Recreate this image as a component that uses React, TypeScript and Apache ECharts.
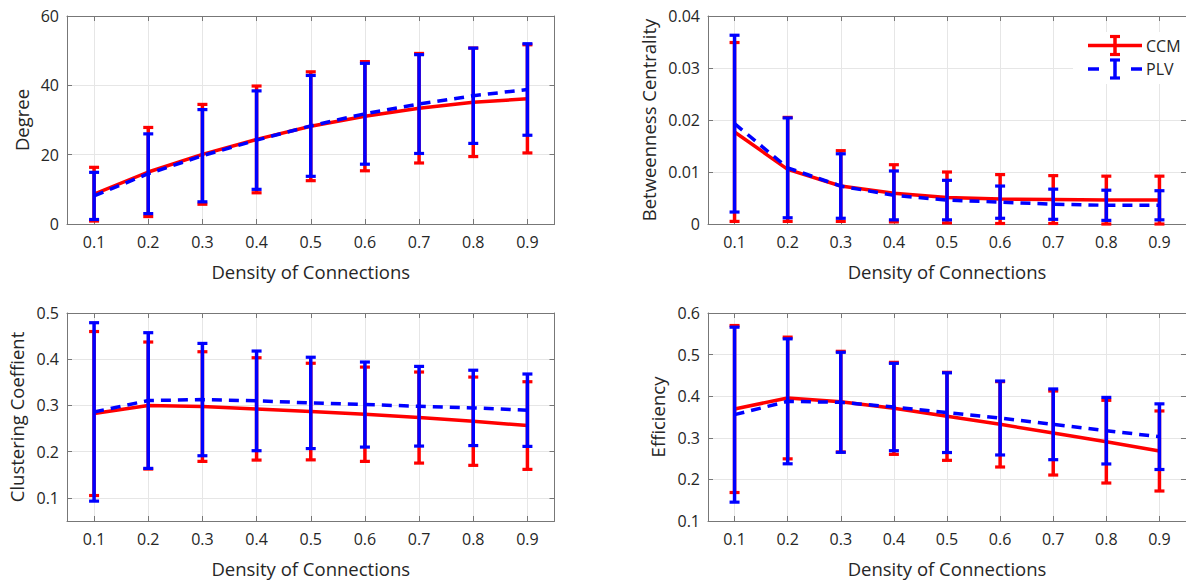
import React, { useEffect, useRef } from "react";
import * as echarts from "echarts";

const density = [0.1, 0.2, 0.3, 0.4, 0.5, 0.6, 0.7, 0.8, 0.9];

const degreeCCM = [8.6, 15.0, 20.1, 24.4, 28.2, 31.1, 33.4, 35.1, 36.1];
const degreeCCMStd = [7.75, 12.85, 14.4, 15.4, 15.7, 15.75, 15.8, 15.65, 15.6];
const degreePLV = [8.1, 14.5, 19.7, 24.2, 28.3, 31.8, 34.6, 37.0, 38.8];
const degreePLVStd = [6.8, 11.5, 13.3, 14.2, 14.55, 14.55, 14.25, 13.75, 13.2];

const betweenCCM = [0.0177, 0.0105, 0.0073, 0.0059, 0.0051, 0.0048, 0.0047, 0.0046, 0.0046];
const betweenCCMStd = [0.0172, 0.01, 0.0068, 0.0055, 0.0049, 0.0047, 0.0046, 0.0046, 0.0046];
const betweenPLV = [0.0193, 0.0108, 0.0073, 0.0055, 0.0046, 0.0042, 0.0038, 0.0036, 0.0036];
const betweenPLVStd = [0.017, 0.0096, 0.0062, 0.0047, 0.0038, 0.0031, 0.0029, 0.0029, 0.0028];

const clusterCCM = [0.2825, 0.2998, 0.2976, 0.2925, 0.2868, 0.281, 0.2738, 0.2659, 0.2565];
const clusterCCMStd = [0.1774, 0.1374, 0.1186, 0.1107, 0.1045, 0.102, 0.0985, 0.0955, 0.0948];
const clusterPLV = [0.286, 0.3106, 0.3127, 0.3099, 0.3055, 0.3019, 0.2983, 0.2947, 0.2897];
const clusterPLVStd = [0.193, 0.1468, 0.1215, 0.1078, 0.0988, 0.092, 0.0862, 0.0815, 0.0783];

const effCCM = [0.3692, 0.3957, 0.3869, 0.3708, 0.3516, 0.3324, 0.3115, 0.2907, 0.2683];
const effCCMStd = [0.2007, 0.1463, 0.121, 0.1106, 0.1058, 0.1026, 0.101, 0.0994, 0.0962];
const effPLV = [0.3556, 0.3877, 0.3853, 0.374, 0.3604, 0.3476, 0.3324, 0.3171, 0.3027];
const effPLVStd = [0.2103, 0.1502, 0.1202, 0.105, 0.0958, 0.0889, 0.085, 0.08, 0.0789];

const degreeTicks = [0, 20, 40, 60];
const betweenTicks = [0, 0.01, 0.02, 0.03, 0.04];
const clusterTicks = [0.1, 0.2, 0.3, 0.4, 0.5];
const effTicks = [0.1, 0.2, 0.3, 0.4, 0.5, 0.6];

const RED = "#ff0000";
const BLUE = "#0000ff";
const AXIS = "#777777";
const TEXT = "#262626";
const GRIDC = "#e6e6e6";
const FONT = "Open Sans";

const panels = [
  { name: "Degree", ccm: degreeCCM, ccmStd: degreeCCMStd, plv: degreePLV, plvStd: degreePLVStd, ticks: degreeTicks, min: 0, max: 60, dec: 0, left: 67, top: 16, nameGap: 36 },
  { name: "Betweenness Centrality", ccm: betweenCCM, ccmStd: betweenCCMStd, plv: betweenPLV, plvStd: betweenPLVStd, ticks: betweenTicks, min: 0, max: 0.04, dec: -1, left: 708, top: 16, nameGap: 50 },
  { name: "Clustering Coeffient", ccm: clusterCCM, ccmStd: clusterCCMStd, plv: clusterPLV, plvStd: clusterPLVStd, ticks: clusterTicks, min: 0.05, max: 0.5, dec: 1, left: 67, top: 313, nameGap: 41 },
  { name: "Efficiency", ccm: effCCM, ccmStd: effCCMStd, plv: effPLV, plvStd: effPLVStd, ticks: effTicks, min: 0.1, max: 0.6, dec: 1, left: 708, top: 313, nameGap: 41 },
];

const W = 487.5;
const H = 208;

function errRender(color: string) {
  return (params: any, api: any) => {
    const x = api.value(0);
    const m = api.value(1);
    const s = api.value(2);
    const t = api.coord([x, m + s]);
    const b = api.coord([x, m - s]);
    const hw = 5;
    const style = { stroke: color, lineWidth: 3.5, fill: null };
    const cap = { stroke: color, lineWidth: 3.2, fill: null };
    return {
      type: "group",
      children: [
        { type: "line", shape: { x1: t[0], y1: t[1], x2: b[0], y2: b[1] }, style },
        { type: "line", shape: { x1: t[0] - hw, y1: t[1], x2: t[0] + hw, y2: t[1] }, style: cap },
        { type: "line", shape: { x1: b[0] - hw, y1: b[1], x2: b[0] + hw, y2: b[1] }, style: cap },
      ],
    };
  };
}

function buildOption() {
  const grid: any[] = [];
  const xAxis: any[] = [];
  const yAxis: any[] = [];
  const series: any[] = [];
  panels.forEach((p, i) => {
    grid.push({ left: p.left, top: p.top, width: W, height: H, containLabel: false });
    const common = {
      gridIndex: i,
      axisLine: { show: true, onZero: false, lineStyle: { color: AXIS, width: 1 } },
      axisTick: { show: true, inside: true, length: 5, lineStyle: { color: AXIS } },
    };
    xAxis.push({
      ...common,
      type: "value",
      position: "bottom",
      min: 0.05,
      max: 0.95,
      axisTick: { ...common.axisTick, customValues: density },
      axisLabel: {
        customValues: density,
        fontSize: 16,
        fontFamily: FONT,
        color: TEXT,
        margin: 10,
        formatter: (v: number) => v.toFixed(1),
      },
      splitLine: { show: true, lineStyle: { color: GRIDC, width: 1 } },
      name: "Density of Connections",
      nameLocation: "middle",
      nameGap: 38,
      nameTextStyle: { fontSize: 18.5, fontFamily: FONT, color: TEXT },
    });
    xAxis.push({
      ...common,
      type: "value",
      position: "top",
      min: 0.05,
      max: 0.95,
      axisTick: { ...common.axisTick, customValues: density },
      axisLabel: { show: false },
      splitLine: { show: false },
    });
    yAxis.push({
      ...common,
      type: "value",
      position: "left",
      min: p.min,
      max: p.max,
      axisTick: { ...common.axisTick, customValues: p.ticks },
      axisLabel: {
        customValues: p.ticks,
        fontSize: 16,
        fontFamily: FONT,
        color: TEXT,
        margin: 8,
        formatter: (v: number) => (p.dec >= 0 ? v.toFixed(p.dec) : v === 0 ? "0" : String(+v.toFixed(3))),
      },
      splitLine: { show: true, lineStyle: { color: GRIDC, width: 1 } },
      name: p.name,
      nameLocation: "middle",
      nameGap: p.nameGap,
      nameTextStyle: { fontSize: 18.5, fontFamily: FONT, color: TEXT },
    });
    yAxis.push({
      ...common,
      type: "value",
      position: "right",
      min: p.min,
      max: p.max,
      axisTick: { ...common.axisTick, customValues: p.ticks },
      axisLabel: { show: false },
      splitLine: { show: false },
    });
    const xi = i * 2;
    const yi = i * 2;
    series.push({
      type: "line",
      name: "CCM",
      xAxisIndex: xi,
      yAxisIndex: yi,
      data: density.map((d, k) => [d, p.ccm[k]]),
      showSymbol: false,
      lineStyle: { color: RED, width: 3.5 },
      z: 3,
    });
    series.push({
      type: "custom",
      name: "CCM err",
      xAxisIndex: xi,
      yAxisIndex: yi,
      data: density.map((d, k) => [d, p.ccm[k], p.ccmStd[k]]),
      encode: { x: 0, y: 1 },
      renderItem: errRender(RED),
      z: 4,
      clip: false,
    });
    series.push({
      type: "line",
      name: "PLV",
      xAxisIndex: xi,
      yAxisIndex: yi,
      data: density.map((d, k) => [d, p.plv[k]]),
      showSymbol: false,
      lineStyle: { color: BLUE, width: 3.5, type: [10, 7] },
      z: 5,
    });
    series.push({
      type: "custom",
      name: "PLV err",
      xAxisIndex: xi,
      yAxisIndex: yi,
      data: density.map((d, k) => [d, p.plv[k], p.plvStd[k]]),
      encode: { x: 0, y: 1 },
      renderItem: errRender(BLUE),
      z: 6,
      clip: false,
    });
  });

  const lg = { x0: 1088, x1: 1142, xc: 1115, y1: 45.5, y2: 69 };
  const graphic: any[] = [
    { type: "rect", shape: { x: 1073, y: 32, width: 120, height: 52 }, style: { fill: "#ffffff" }, z: 10 },
    { type: "line", shape: { x1: lg.x0, y1: lg.y1, x2: lg.x1, y2: lg.y1 }, style: { stroke: RED, lineWidth: 3.5 }, z: 11 },
    { type: "line", shape: { x1: lg.xc, y1: lg.y1 - 9, x2: lg.xc, y2: lg.y1 + 9 }, style: { stroke: RED, lineWidth: 3.5 }, z: 11 },
    { type: "line", shape: { x1: lg.xc - 5, y1: lg.y1 - 9, x2: lg.xc + 5, y2: lg.y1 - 9 }, style: { stroke: RED, lineWidth: 3.2 }, z: 11 },
    { type: "line", shape: { x1: lg.xc - 5, y1: lg.y1 + 9, x2: lg.xc + 5, y2: lg.y1 + 9 }, style: { stroke: RED, lineWidth: 3.2 }, z: 11 },
    { type: "text", x: 1146, y: lg.y1, style: { text: "CCM", fontSize: 16, fontFamily: FONT, fill: TEXT, verticalAlign: "middle", align: "left" }, z: 11 },
    { type: "line", shape: { x1: lg.x0, y1: lg.y2, x2: lg.x0 + 11, y2: lg.y2 }, style: { stroke: BLUE, lineWidth: 3.5 }, z: 11 },
    { type: "line", shape: { x1: lg.x1 - 11, y1: lg.y2, x2: lg.x1, y2: lg.y2 }, style: { stroke: BLUE, lineWidth: 3.5 }, z: 11 },
    { type: "line", shape: { x1: lg.xc, y1: lg.y2 - 9, x2: lg.xc, y2: lg.y2 + 9 }, style: { stroke: BLUE, lineWidth: 3.5 }, z: 11 },
    { type: "line", shape: { x1: lg.xc - 5, y1: lg.y2 - 9, x2: lg.xc + 5, y2: lg.y2 - 9 }, style: { stroke: BLUE, lineWidth: 3.2 }, z: 11 },
    { type: "line", shape: { x1: lg.xc - 5, y1: lg.y2 + 9, x2: lg.xc + 5, y2: lg.y2 + 9 }, style: { stroke: BLUE, lineWidth: 3.2 }, z: 11 },
    { type: "text", x: 1146, y: lg.y2, style: { text: "PLV", fontSize: 16, fontFamily: FONT, fill: TEXT, verticalAlign: "middle", align: "left" }, z: 11 },
  ];

  return {
    animation: false,
    backgroundColor: "#ffffff",
    grid,
    xAxis,
    yAxis,
    series,
    graphic,
  };
}

export default function App() {
  const ref = useRef<HTMLDivElement>(null);
  useEffect(() => {
    if (!ref.current) return;
    const chart = echarts.init(ref.current, undefined, { renderer: "svg" });
    chart.setOption(buildOption() as any);
    return () => chart.dispose();
  }, []);
  return (
    <div
      ref={ref}
      style={{ position: "absolute", left: 0, top: 0, width: 1186, height: 580, background: "#fff" }}
    />
  );
}
